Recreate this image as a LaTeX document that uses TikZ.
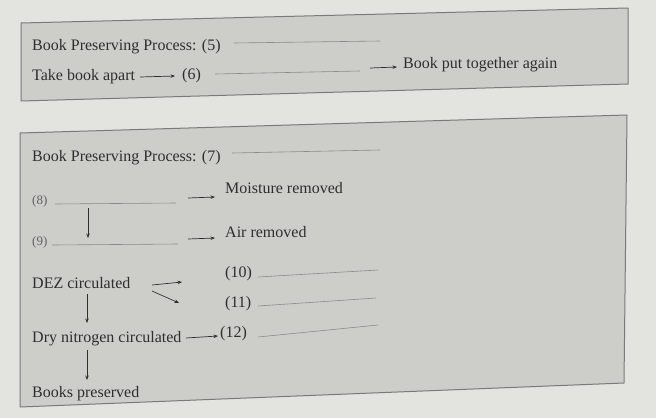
\documentclass[tikz,border=0pt]{standalone}
\usepackage{fontspec}
\setmainfont{Liberation Serif}
\usetikzlibrary{arrows.meta}
\definecolor{bg}{HTML}{E3E3E0}
\definecolor{boxfill}{HTML}{CDCDCA}
\definecolor{boxline}{HTML}{7A7A7A}
\definecolor{ink}{HTML}{2E2E2E}
\definecolor{blank}{HTML}{8A8A8A}
\begin{document}
\begin{tikzpicture}[x=1pt,y=-1pt,
  lbl/.style={anchor=base west,inner sep=0pt,text=ink,font=\fontsize{16}{18}\selectfont},
  small/.style={lbl,text=ink!75,font=\fontsize{13}{15}\selectfont},
  panel/.style={draw=boxline,line width=1pt,fill=boxfill,line join=round},
  blankline/.style={draw=blank,line width=0.6pt},
  arr/.style={draw=ink,line width=0.7pt,-{Stealth[length=4.5pt,width=3.5pt]}}]
\fill[bg] (0,0) rectangle (656,418);
\useasboundingbox (0,0) rectangle (656,418);
% panels
\draw[panel] (21,23) -- (628,8) -- (628,84) -- (21,101) -- cycle;
\draw[panel] (20,133) -- (627,115) -- (624,383) -- (20,407) -- cycle;
% panel 1
\node[lbl] (p5) at (32,50) {Book Preserving Process: (5)};
\coordinate (b5a) at (234,43); \coordinate (b5b) at (380,41);
\draw[blankline] (b5a) -- (b5b);
\node[lbl] (take) at (32,80) {Take book apart};
\node[lbl] (n6) at (182,79) {(6)};
\coordinate (a5s) at (140,77); \coordinate (a5e) at (175,76);
\draw[arr] (a5s) -- (a5e);
\coordinate (b6a) at (215,74); \coordinate (b6b) at (360,71);
\draw[blankline] (b6a) -- (b6b);
\node[lbl] (again) at (403,68) {Book put together again};
\coordinate (a6s) at (370,68); \coordinate (a6e) at (397,67);
\draw[arr] (a6s) -- (a6e);
% panel 2
\node[lbl] (p7) at (32,161) {Book Preserving Process: (7)};
\coordinate (b7a) at (232,153); \coordinate (b7b) at (380,150);
\draw[blankline] (b7a) -- (b7b);
\node[small] (n8) at (32,204) {(8)};
\coordinate (b8a) at (55,204); \coordinate (b8b) at (176,203);
\draw[blankline] (b8a) -- (b8b);
\node[lbl] (moist) at (225,193) {Moisture removed};
\coordinate (a8s) at (188,198); \coordinate (a8e) at (215,197);
\draw[arr] (a8s) -- (a8e);
\node[small] (n9) at (32,245) {(9)};
\coordinate (b9a) at (52,245); \coordinate (b9b) at (178,244);
\draw[blankline] (b9a) -- (b9b);
\coordinate (d8) at (88,208); \coordinate (d9) at (88,238);
\draw[arr] (d8) -- (d9);
\node[lbl] (air) at (225,237) {Air removed};
\coordinate (a9s) at (188,239); \coordinate (a9e) at (215,238);
\draw[arr] (a9s) -- (a9e);
\node[lbl] (dez) at (32,288) {DEZ circulated};
\node[lbl] (n10) at (225,277) {(10)};
\node[lbl] (n11) at (225,307) {(11)};
\coordinate (d10s) at (152,285); \coordinate (d10e) at (182,282);
\coordinate (d11s) at (152,291); \coordinate (d11e) at (179,303);
\draw[arr] (d10s) -- (d10e);
\draw[arr] (d11s) -- (d11e);
\coordinate (b10a) at (258,277); \coordinate (b10b) at (378,270);
\draw[blankline] (b10a) -- (b10b);
\coordinate (b11a) at (258,306); \coordinate (b11b) at (376,298);
\draw[blankline] (b11a) -- (b11b);
\node[lbl] (dry) at (32,342) {Dry nitrogen circulated};
\node[lbl] (n12) at (220,337) {(12)};
\coordinate (a12s) at (186,338); \coordinate (a12e) at (218,336);
\draw[arr] (a12s) -- (a12e);
\coordinate (b12a) at (258,337); \coordinate (b12b) at (378,325);
\draw[blankline] (b12a) -- (b12b);
\coordinate (dz) at (87,294); \coordinate (dze) at (87,323);
\draw[arr] (dz) -- (dze);
\coordinate (dr) at (87,350); \coordinate (dre) at (87,380);
\draw[arr] (dr) -- (dre);
\node[lbl] (pres) at (32,397) {Books preserved};
\end{tikzpicture}
\end{document}
